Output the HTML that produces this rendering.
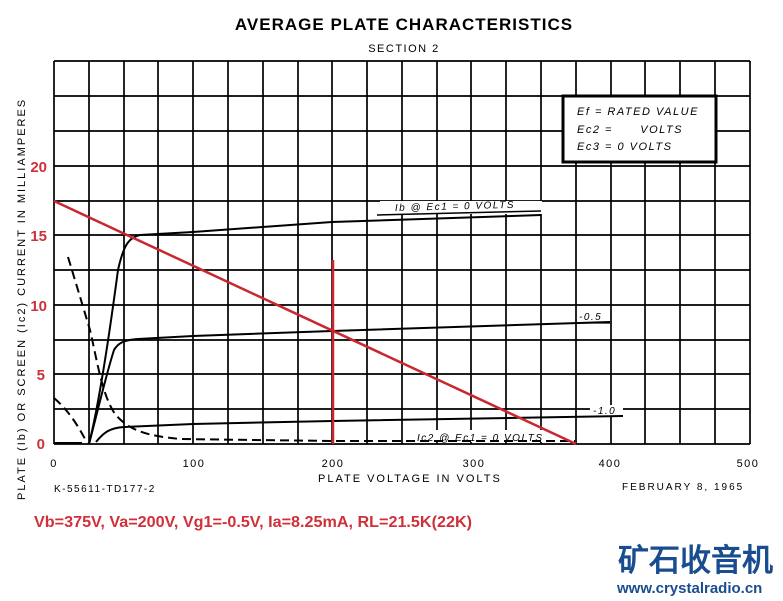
<!DOCTYPE html>
<html><head><meta charset="utf-8"><style>
html,body{margin:0;padding:0;background:#fff;width:783px;height:601px;overflow:hidden}
svg{display:block}
text{font-family:"Liberation Sans",sans-serif}
</style></head><body>
<svg width="783" height="601" viewBox="0 0 783 601" xmlns="http://www.w3.org/2000/svg">
<rect width="783" height="601" fill="#fff"/>
<text x="404" y="30" text-anchor="middle" font-size="17" font-weight="bold" letter-spacing="1">AVERAGE PLATE CHARACTERISTICS</text>
<text x="404" y="52" text-anchor="middle" font-size="11" letter-spacing="1.5">SECTION 2</text>
<g stroke="#000" stroke-width="1.7" fill="none">
<path d="M54 61H750M54 96H750M54 131H750M54 166H750M54 201H750M54 235H750M54 270H750M54 305H750M54 340H750M54 374H750M54 409H750M54 444H750"/>
<path d="M54 61V444M89 61V444M124 61V444M158 61V444M193 61V444M228 61V444M263 61V444M298 61V444M332 61V444M367 61V444M402 61V444M437 61V444M471 61V444M506 61V444M541 61V444M576 61V444M611 61V444M645 61V444M680 61V444M715 61V444M750 61V444"/>
</g>
<rect x="563" y="96" width="153" height="66" fill="#fff" stroke="#000" stroke-width="3"/>
<g font-size="11" font-style="italic" letter-spacing="1.5">
<text x="577" y="115">Ef = RATED VALUE</text>
<text x="577" y="133">Ec2 =&#160;&#160;&#160;&#160;&#160;&#160;VOLTS</text>
<text x="577" y="150">Ec3 = 0 VOLTS</text>
</g>
<rect x="380" y="201" width="162" height="13" fill="#fff"/>
<rect x="578" y="311" width="32" height="11" fill="#fff"/>
<rect x="590" y="405" width="33" height="11" fill="#fff"/>
<rect x="405" y="430" width="170" height="12" fill="#fff"/>
<g stroke="#000" stroke-width="2" fill="none">
<path d="M89 444 C100 400,110 330,118 270 C124 243,130 237,140 235 L193 232 L332 222 L541 215"/>
<path d="M89 444 C98 410,106 375,114 350 C118 343,124 340,138 339 L193 336 L332 331 L610 322"/>
<path d="M96 442 C104 432,110 428,124 427 L193 424 L332 421 L623 416"/>
<path d="M54 443 L82 443" />
</g>
<g stroke="#000" stroke-width="2" fill="none" stroke-dasharray="9,5">
<path d="M68 257 C78 290,84 310,90 330 C97 360,102 395,115 414 C130 432,150 436,180 439 L332 441 L575 441"/>
<path d="M54 398 C68 410,78 425,87 443"/>
</g>
<path d="M377 215 L541 211" stroke="#000" stroke-width="1.5"/>
<text x="395" y="211" font-size="10" font-style="italic" letter-spacing="1.5" transform="rotate(-1.5 395 211)">Ib @ Ec1 = 0 VOLTS</text>
<text x="579" y="320" font-size="10" font-style="italic" letter-spacing="1.5">-0.5</text>
<path d="M578 323H610" stroke="#000" stroke-width="1.2"/>
<text x="593" y="414" font-size="10" font-style="italic" letter-spacing="1.5">-1.0</text>
<text x="417" y="441" font-size="10" font-style="italic" letter-spacing="1.5">Ic2 @ Ec1 = 0 VOLTS</text>
<path d="M54 201 L576 444" stroke="#c8282e" stroke-width="2.5"/>
<path d="M333 260 V444" stroke="#c8282e" stroke-width="2.5"/>
<g fill="#d0303a" font-size="15" font-weight="bold" text-anchor="end">
<text x="47" y="172">20</text><text x="47" y="241">15</text><text x="47" y="311">10</text><text x="45" y="380">5</text><text x="45" y="449">0</text>
</g>
<text transform="translate(25 500) rotate(-90)" font-size="11" letter-spacing="2">PLATE (Ib) OR SCREEN (Ic2) CURRENT IN MILLIAMPERES</text>
<g font-size="11" letter-spacing="1.5" text-anchor="middle">
<text x="54" y="467">0</text><text x="194" y="467">100</text><text x="333" y="467">200</text><text x="474" y="467">300</text><text x="610" y="467">400</text><text x="748" y="467">500</text>
</g>
<text x="318" y="482" font-size="11" letter-spacing="2">PLATE VOLTAGE IN VOLTS</text>
<text x="54" y="492" font-size="10" letter-spacing="1.5">K-55611-TD177-2</text>
<text x="622" y="490" font-size="10" letter-spacing="2">FEBRUARY 8, 1965</text>
<text x="34" y="527" font-size="15.5" font-weight="bold" fill="#d0303a" textLength="438" lengthAdjust="spacingAndGlyphs">Vb=375V, Va=200V, Vg1=-0.5V, Ia=8.25mA, RL=21.5K(22K)</text>
<text x="618" y="571" font-size="31" font-weight="bold" fill="#1a4d8f" font-family="'Noto Sans CJK SC',sans-serif">矿石收音机</text>
<text x="617" y="593" font-size="15" font-weight="bold" fill="#1a4d8f">www.crystalradio.cn</text>
</svg>
</body></html>
